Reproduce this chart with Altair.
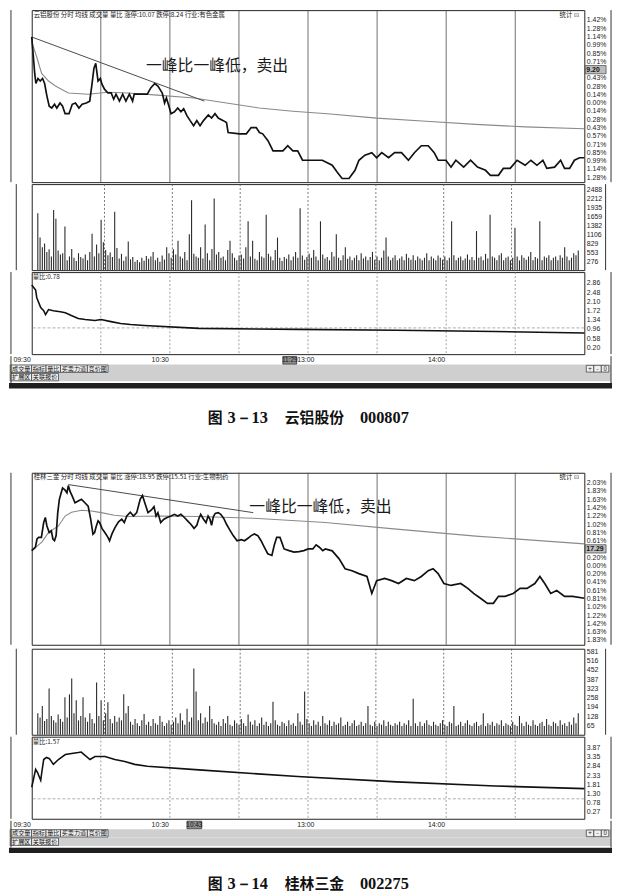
import altair as alt
import pandas as pd

# ======================= DATA =======================
GRID_MIN = [30, 60, 90, 120, 150, 180, 210]
TIME_MIN = [0, 60, 180]
TIME_LAB = ["09:30", "10:30", "14:00"]
BTN_ROW1 = ["成交量", "指标", "量比", "买卖力道", "竞价图"]
BTN_ROW2 = ["扩展区", "关联报价"]
PM_BTN = ["+", "-", "0"]
ANN_TEXT = "一峰比一峰低，卖出"

# ---- chart 1: 云铝股份 000807 ----
c1_header = "云铝股份    分时  均线  成交量  量比  涨停:10.07  跌停:8.24  行业:有色金属"
c1_price = [[0, 9.253], [1.3, 9.195], [1.8, 9.179], [2.7, 9.187], [3.7, 9.183], [4.7, 9.187],
            [5.6, 9.179], [6.6, 9.159], [7.6, 9.143], [8.7, 9.140], [9.9, 9.146], [10.9, 9.140],
            [12.3, 9.148], [13.4, 9.143], [14.5, 9.131], [16.2, 9.131], [17.6, 9.146], [19.0, 9.148],
            [20.5, 9.140], [21.9, 9.146], [23.7, 9.148], [25.2, 9.151], [26.2, 9.179], [27.0, 9.203],
            [27.8, 9.211], [28.8, 9.183], [29.8, 9.187], [30.5, 9.178], [31.6, 9.170], [33.1, 9.164],
            [34.5, 9.164], [35.6, 9.154], [36.6, 9.162], [38.1, 9.151], [39.5, 9.162], [40.9, 9.151],
            [42.4, 9.162], [43.8, 9.151], [44.5, 9.162], [50.2, 9.162], [51.7, 9.172], [53.4, 9.179],
            [54.8, 9.175], [56.7, 9.164], [57.7, 9.148], [58.5, 9.156], [59.6, 9.143], [60.5, 9.131],
            [62.0, 9.134], [63.4, 9.140], [64.8, 9.134], [66.0, 9.139], [67.4, 9.128], [68.8, 9.120],
            [70.3, 9.112], [71.7, 9.120], [73.1, 9.112], [74.6, 9.120], [76.7, 9.129], [78.1, 9.124],
            [79.6, 9.131], [81.0, 9.124], [83.2, 9.120], [84.6, 9.117], [85.3, 9.101], [90.3, 9.099],
            [93.2, 9.099], [95.3, 9.109], [97.5, 9.109], [98.9, 9.101], [100.3, 9.099], [102.6, 9.088],
            [104.8, 9.072], [109.1, 9.072], [111.2, 9.080], [113.4, 9.072], [115.5, 9.072], [117.6, 9.057],
            [121.9, 9.057], [126.2, 9.057], [130.5, 9.049], [132.7, 9.038], [134.8, 9.028], [137.8, 9.028],
            [140.4, 9.041], [142.1, 9.057], [144.7, 9.065], [147.7, 9.069], [149.8, 9.061], [152.0, 9.069],
            [155.0, 9.061], [157.6, 9.069], [160.6, 9.069], [163.6, 9.057], [166.2, 9.069], [169.2, 9.080],
            [172.2, 9.080], [174.8, 9.069], [176.5, 9.057], [179.9, 9.057], [182.1, 9.046], [184.2, 9.057],
            [187.6, 9.046], [190.6, 9.057], [193.6, 9.046], [197.1, 9.041], [199.2, 9.033], [202.7, 9.033],
            [204.8, 9.044], [207.8, 9.044], [210.8, 9.057], [214.3, 9.049], [216.8, 9.057], [219.4, 9.049],
            [222.0, 9.057], [223.7, 9.044], [227.1, 9.046], [229.7, 9.057], [231.4, 9.044], [233.6, 9.044],
            [235.7, 9.057], [237.9, 9.061], [240, 9.061]]
c1_avg = [[0, 9.245], [2.1, 9.222], [4.3, 9.195], [7.3, 9.183], [10.3, 9.175], [15.9, 9.164],
          [24.5, 9.162], [33.1, 9.165], [41.6, 9.164], [53.2, 9.161], [70.4, 9.156], [84.6, 9.148],
          [98.8, 9.140], [113.4, 9.135], [128.4, 9.131], [149.8, 9.124], [171.3, 9.119], [192.8, 9.114],
          [214.3, 9.110], [240, 9.107]]
c1_trend = [[0, 9.253], [75, 9.151]]
c1_volume = [1750, 1000, 700, 820, 560, 640, 420, 1850, 1580, 600,
             480, 520, 1340, 300, 420, 650, 380, 280, 520, 400,
             360, 480, 300, 560, 1120, 420, 790, 520, 1550, 860,
             620, 460, 540, 400, 1790, 680, 360, 500, 290, 420,
             880, 330, 400, 260, 310, 240, 380, 290, 430, 350,
             420, 560, 300, 380, 260, 450, 330, 700, 520, 380,
             640, 480, 900, 420, 360, 560, 300, 1100, 2150, 500,
             420, 380, 700, 360, 1400, 520, 300, 650, 2200, 480,
             560, 380, 420, 300, 620, 900, 520, 380, 300, 450,
             480, 360, 700, 1500, 420, 900, 350, 300, 560, 420,
             380, 1700, 500, 420, 300, 620, 1000, 380, 280, 400,
             350, 480, 300, 420, 560, 380, 1900, 450, 320, 400,
             500, 380, 620, 420, 300, 1500, 480, 360, 400, 300,
             560, 420, 1100, 380, 300, 460, 700, 350, 420, 300,
             380, 460, 300, 520, 360, 420, 300, 400, 560, 320,
             420, 300, 380, 600, 1000, 420, 300, 380, 460, 300,
             360, 420, 300, 500, 380, 320, 460, 300, 420, 360,
             300, 380, 520, 300, 420, 360, 300, 450, 380, 320,
             420, 300, 380, 1500, 460, 300, 380, 420, 300, 360,
             480, 320, 400, 300, 1200, 380, 420, 300, 500, 360,
             1700, 420, 380, 300, 460, 520, 300, 380, 420, 300,
             380, 1300, 420, 300, 460, 380, 320, 420, 560, 300,
             400, 360, 1500, 300, 420, 380, 460, 300, 380, 420,
             300, 460, 380, 700, 420, 300, 380, 520, 460, 600]
c1_ratio = [[0, 2.78], [1.7, 2.57], [2.2, 2.25], [3.9, 1.84], [5.2, 1.71], [6.0, 1.55], [7.3, 1.76],
            [9.4, 1.71], [12.4, 1.67], [14.6, 1.63], [17.2, 1.51], [20.2, 1.39], [23.2, 1.35],
            [27.5, 1.31], [30.1, 1.35], [34.4, 1.26], [38.6, 1.18], [42.9, 1.14], [48.9, 1.10],
            [72.6, 0.98], [115.5, 0.94], [158.4, 0.90], [201.3, 0.85], [240, 0.79]]
c1_price_labels = ["9.28", "9.27", "9.25", "9.24", "9.23", "9.21", "9.20", "9.19", "9.18", "9.16",
                   "9.15", "9.14", "9.12", "9.11", "9.10", "9.08", "9.07", "9.06", "9.05", "9.03"]
c1_vol_labels = [2488, 2212, 1935, 1659, 1382, 1106, 829, 553, 276]
c1_ratio_labels = [2.86, 2.48, 2.10, 1.72, 1.34, 0.96, 0.58, 0.20]
c1_ratio_text = "量比:0.78"
c1_hl_text = "9.20"
c1_cursor_text = "11:29"
c1_caption_parts = ["图", "3－13", "云铝股份", "000807"]

# ---- chart 2: 桂林三金 002275 ----
c2_header = "桂林三金    分时  均线  成交量  量比  涨停:18.95  跌停:15.51  行业:生物制药"
c2_price = [[0, 17.279], [1.6, 17.293], [2.3, 17.327], [3.0, 17.334], [4.2, 17.334], [5.2, 17.395],
            [5.9, 17.416], [6.6, 17.381], [7.6, 17.354], [8.5, 17.361], [9.2, 17.327], [9.9, 17.320],
            [10.6, 17.341], [11.3, 17.436], [12.0, 17.491], [12.8, 17.518], [13.4, 17.538], [14.5, 17.529],
            [15.3, 17.518], [15.9, 17.548], [16.6, 17.525], [17.6, 17.504], [18.8, 17.477], [20.2, 17.484],
            [21.6, 17.491], [23.1, 17.477], [24.5, 17.463], [25.6, 17.409], [26.6, 17.347], [27.3, 17.354],
            [28.0, 17.379], [28.8, 17.402], [29.5, 17.395], [30.5, 17.371], [31.9, 17.352], [33.1, 17.334],
            [33.8, 17.320], [34.8, 17.347], [36.2, 17.375], [37.7, 17.398], [39.1, 17.409], [40.2, 17.395],
            [41.3, 17.422], [42.8, 17.438], [44.2, 17.422], [45.6, 17.436], [47.1, 17.491], [48.1, 17.507],
            [49.1, 17.477], [50.5, 17.436], [52.0, 17.447], [53.1, 17.461], [54.0, 17.422], [54.8, 17.436],
            [56.0, 17.395], [57.4, 17.409], [58.8, 17.416], [60.5, 17.422], [62.0, 17.429], [63.4, 17.422],
            [64.8, 17.429], [66.3, 17.416], [67.7, 17.402], [69.1, 17.388], [70.5, 17.371], [71.7, 17.384],
            [72.6, 17.412], [73.4, 17.429], [74.6, 17.409], [75.7, 17.395], [76.6, 17.422], [77.4, 17.409],
            [78.1, 17.384], [78.9, 17.420], [79.7, 17.433], [81.0, 17.436], [82.1, 17.429], [83.4, 17.412],
            [84.6, 17.388], [86.0, 17.365], [87.5, 17.341], [89.2, 17.320], [91.0, 17.324], [92.4, 17.320],
            [93.9, 17.330], [95.3, 17.341], [96.7, 17.348], [98.2, 17.341], [99.6, 17.320], [101.0, 17.293],
            [102.5, 17.266], [104.3, 17.259], [105.3, 17.300], [106.4, 17.334], [107.8, 17.334], [108.6, 17.313],
            [109.6, 17.286], [111.8, 17.279], [113.9, 17.273], [116.1, 17.275], [118.2, 17.279], [120.1, 17.286],
            [122.1, 17.286], [123.5, 17.303], [124.9, 17.293], [126.4, 17.279], [127.5, 17.286], [130.5, 17.278],
            [133.5, 17.245], [136.1, 17.204], [139.1, 17.196], [142.1, 17.184], [145.6, 17.172], [147.7, 17.102],
            [149.8, 17.155], [153.3, 17.164], [156.3, 17.155], [159.3, 17.143], [162.7, 17.164], [166.2, 17.155],
            [169.2, 17.172], [172.2, 17.196], [174.3, 17.204], [176.5, 17.184], [179.0, 17.143], [182.1, 17.135],
            [186.3, 17.143], [189.4, 17.123], [191.9, 17.102], [194.9, 17.082], [197.9, 17.061], [200.5, 17.061],
            [202.7, 17.090], [205.6, 17.090], [209.1, 17.102], [212.1, 17.123], [215.1, 17.123], [218.5, 17.143],
            [220.7, 17.172], [222.8, 17.143], [225.4, 17.102], [228.0, 17.114], [231.4, 17.090], [234.9, 17.090],
            [240, 17.082]]
c2_avg = [[0, 17.279], [4.4, 17.314], [7.3, 17.354], [11.6, 17.381], [14.5, 17.422], [17.3, 17.438],
          [21.6, 17.446], [25.9, 17.443], [30.2, 17.436], [35.9, 17.425], [41.6, 17.420], [55.9, 17.422],
          [72.6, 17.420], [96.2, 17.413], [127.5, 17.395], [158.4, 17.368], [192.8, 17.339], [240, 17.307]]
c2_trend = [[15.9, 17.552], [96.2, 17.436]]
c2_volume = [150, 120, 199, 95, 110, 322, 130, 100, 85, 140,
             110, 90, 261, 120, 281, 391, 150, 240, 100, 130,
             261, 120, 90, 150, 110, 80, 364, 130, 240, 100,
             150, 226, 110, 80, 130, 90, 120, 100, 281, 150,
             199, 90, 70, 110, 80, 60, 100, 144, 70, 90,
             60, 110, 80, 70, 130, 90, 60, 80, 100, 70,
             90, 120, 80, 150, 100, 70, 180, 90, 120, 460,
             300, 100, 150, 80, 120, 90, 200, 110, 80, 70,
             90, 60, 110, 80, 130, 70, 60, 100, 80, 70,
             110, 80, 60, 140, 90, 70, 100, 60, 80, 120,
             70, 90, 60, 80, 230, 100, 70, 60, 90, 80,
             60, 100, 70, 80, 60, 150, 90, 70, 300, 110,
             80, 60, 100, 70, 90, 60, 130, 80, 70, 100,
             60, 90, 70, 80, 120, 60, 70, 90, 60, 80,
             100, 60, 70, 90, 60, 80, 200, 70, 60, 90,
             60, 80, 70, 100, 60, 90, 70, 60, 80, 70,
             90, 60, 80, 70, 100, 60, 250, 80, 60, 90,
             60, 80, 100, 70, 60, 90, 70, 60, 80, 100,
             70, 60, 90, 80, 200, 60, 70, 90, 60, 80,
             100, 70, 60, 80, 90, 60, 70, 150, 60, 80,
             70, 90, 60, 80, 70, 100, 60, 80, 70, 60,
             90, 70, 60, 130, 80, 60, 90, 70, 60, 100,
             70, 60, 80, 90, 60, 110, 70, 60, 90, 80,
             60, 100, 70, 80, 60, 90, 70, 120, 80, 150]
c2_ratio = [[0, 1.65], [1.7, 2.65], [2.6, 2.45], [3.0, 2.32], [3.9, 2.04], [4.5, 2.60], [5.2, 3.20],
            [6.4, 3.32], [7.7, 3.25], [9.4, 2.93], [11.6, 3.20], [12.9, 3.32], [14.6, 3.48], [20.2, 3.59],
            [21.5, 3.62], [25.3, 3.20], [27.5, 3.37], [31.8, 3.37], [36.1, 3.20], [40.4, 3.09],
            [44.7, 2.93], [50.2, 2.82], [72.6, 2.62], [115.5, 2.25], [158.4, 1.95], [201.4, 1.72], [240, 1.57]]
c2_price_labels = ["17.56", "17.53", "17.49", "17.46", "17.42", "17.40", "17.37", "17.33", "17.30", "17.26",
                   "17.23", "17.19", "17.16", "17.13", "17.09", "17.06", "17.02", "16.98", "16.95", "16.91"]
c2_vol_labels = [581, 516, 452, 387, 323, 258, 194, 128, 65]
c2_ratio_labels = [3.87, 3.35, 2.84, 2.33, 1.81, 1.30, 0.78, 0.27]
c2_ratio_text = "量比:1.57"
c2_hl_text = "17.29"
c2_cursor_text = "10:43"
c2_caption_parts = ["图", "3－14", "桂林三金", "002275"]

# ======================= LAYOUT =======================
W = 559
H_PRICE, H_VOL, H_RATIO, H_FOOT = 174, 87, 83, 34
CJK = "Noto Sans CJK SC"
LAB = "Liberation Sans"
SERIF = "Liberation Serif"
PX_PER_MIN = W / 240.0
CAPTION_PX = [209, 229, 287, 363]
CAPTION_FONTS = [CJK, SERIF, CJK, SERIF]
CAPTION_SIZES = [15, 16.5, 15, 16.5]


def pxm(px):
    """page-x (decoration helper) -> minutes"""
    return (px - 31) / PX_PER_MIN


XS = alt.Scale(domain=[0, 240], nice=False, zero=False)


def X(f="m"):
    return alt.X(f + ":Q", scale=XS, axis=None)


def frame_rules():
    return alt.Chart(pd.DataFrame({"m": [pxm(10), pxm(617)]})).mark_rule(
        color="#333", strokeWidth=1).encode(x=X())


def price_panel(c):
    top, step = c["ptop"], c["pstep"]
    dom = [top - 19.594 * step, top + 1.195 * step]
    ysc = alt.Scale(domain=dom, nice=False, zero=False)
    vals = [top - i * step for i in range(20)]
    arr = "[" + ",".join("'%s'" % s for s in c["plabels"]) + "]"
    lexpr = "%s[round((%r - datum.value) / %r)]" % (arr, top, step)
    ax = alt.Axis(values=vals, labelExpr=lexpr, grid=True, gridColor="#3c3c3c", gridWidth=0.8,
                  ticks=False, domain=False, labelPadding=2, minExtent=23, maxExtent=23, title=None,
                  labelFont=LAB, labelFontSize=7, labelColor="#222")

    def Y():
        return alt.Y("v:Q", scale=ysc, axis=None)

    axis_layer = alt.Chart(pd.DataFrame({"v": vals})).mark_point(opacity=0, size=1).encode(
        x=alt.value(0), y=alt.Y("v:Q", scale=ysc, axis=ax))
    vgrid = alt.Chart(pd.DataFrame({"m": GRID_MIN})).mark_rule(color="#4a4a4a", strokeWidth=0.8).encode(x=X())
    avg = alt.Chart(pd.DataFrame(c["avg"], columns=["m", "v"])).mark_line(
        color="#8a8a8a", strokeWidth=1.1).encode(x=X(), y=Y())
    trend = alt.Chart(pd.DataFrame(c["trend"], columns=["m", "v"])).mark_line(
        color="#4a4a4a", strokeWidth=1).encode(x=X(), y=Y())
    price = alt.Chart(pd.DataFrame(c["price"], columns=["m", "v"])).mark_line(
        color="#111", strokeWidth=1.7).encode(x=X(), y=Y())
    ann = alt.Chart(pd.DataFrame({"m": [c["ann_m"]], "v": [c["ann_v"]], "t": [ANN_TEXT]})).mark_text(
        font=CJK, fontSize=16, color="#1a1a1a").encode(x=X(), y=Y(), text="t:N")
    hv = dom[1] - (4.5 / 8.37) * step
    head = alt.Chart(pd.DataFrame({"m": [pxm(33), pxm(565)], "v": [hv, hv],
                                   "t": [c["header"], "统计  ⊡"]})).mark_text(
        font=CJK, fontSize=6.5, align="left", color="#222").encode(x=X(), y=Y(), text="t:N")
    hrow = vals[c["hl_row"]]
    hl = alt.Chart(pd.DataFrame({"m1": [pxm(591)], "m2": [pxm(612)], "v1": [hrow - 0.5 * step],
                                 "v2": [hrow + 0.5 * step]})).mark_rect(
        fill="#bdbdbd", stroke="#444", strokeWidth=0.7).encode(
        x=alt.X("m1:Q", scale=XS, axis=None), x2="m2", y=alt.Y("v1:Q", scale=ysc, axis=None), y2="v2")
    hlt = alt.Chart(pd.DataFrame({"m": [pxm(592)], "v": [hrow], "t": [c["hl_text"]]})).mark_text(
        font=LAB, fontSize=7, fontWeight="bold", align="left", color="#111").encode(x=X(), y=Y(), text="t:N")

    inner = alt.layer(axis_layer, vgrid, avg, trend, price, ann, head, frame_rules(), hl, hlt)

    ptop, pstep = c["pctop"], c["pctstep"]
    pdom = [ptop - 19.594 * pstep, ptop + 1.195 * pstep]
    pvals = [ptop - i * pstep for i in range(20)]
    pexpr = "round((%r - datum.value) / %r) == %d ? '' : format(abs(datum.value), '.2f') + '%%'" % (
        ptop, pstep, c["hl_row"])
    pax = alt.Axis(orient="right", values=pvals, labelExpr=pexpr,
                   grid=False, ticks=False, domain=False, labelPadding=2, minExtent=27, maxExtent=27,
                   title=None, labelFont=LAB, labelFontSize=7, labelColor="#222")
    pct = alt.Chart(pd.DataFrame({"p": pvals})).mark_point(opacity=0, size=1).encode(
        x=alt.value(0), y=alt.Y("p:Q", scale=alt.Scale(domain=pdom, nice=False, zero=False), axis=pax))
    return alt.layer(inner, pct).resolve_scale(y="independent").properties(width=W, height=H_PRICE)


def side_axes(vals, fmt, grid, orient):
    ext = 23 if orient == "left" else 27
    return alt.Axis(orient=orient, values=vals, format=fmt, grid=grid, gridColor="#3c3c3c", gridWidth=0.8,
                    ticks=False, domain=False, labelPadding=2, minExtent=ext, maxExtent=ext, title=None,
                    labelFont=LAB, labelFontSize=7, labelColor="#222")


def volume_panel(c):
    dom = [0, c["vmax"]]
    ysc = alt.Scale(domain=dom, nice=False, zero=False)
    labs = c["vlabels"]
    left = alt.Chart(pd.DataFrame({"v": labs})).mark_point(opacity=0, size=1).encode(
        x=alt.value(0), y=alt.Y("v:Q", scale=ysc, axis=side_axes(labs, "d", True, "left")))
    vgrid = alt.Chart(pd.DataFrame({"m": GRID_MIN})).mark_rule(
        color="#555", strokeWidth=0.8, strokeDash=[2, 2]).encode(x=X())
    vdf = pd.DataFrame({"v": c["volume"]})
    vdf["m"] = vdf.index + 0.5
    bars = alt.Chart(vdf).mark_bar(width=1.1, color="#2a2a2a").encode(
        x=X(), y=alt.Y("v:Q", scale=ysc, axis=None))
    inner = alt.layer(left, vgrid, bars, frame_rules())
    right = alt.Chart(pd.DataFrame({"v": labs})).mark_point(opacity=0, size=1).encode(
        x=alt.value(0), y=alt.Y("v:Q", scale=alt.Scale(domain=dom, nice=False, zero=False),
                                axis=side_axes(labs, "d", False, "right")))
    return alt.layer(inner, right).resolve_scale(y="independent").properties(width=W, height=H_VOL)


def ratio_panel(c):
    dom = c["rdom"]
    ysc = alt.Scale(domain=dom, nice=False, zero=False)
    labs = c["rlabels"]
    left = alt.Chart(pd.DataFrame({"v": labs})).mark_point(opacity=0, size=1).encode(
        x=alt.value(0), y=alt.Y("v:Q", scale=ysc, axis=side_axes(labs, ".2f", False, "left")))
    vgrid = alt.Chart(pd.DataFrame({"m": GRID_MIN})).mark_rule(
        color="#777", strokeWidth=0.7, strokeDash=[2, 2]).encode(x=X())
    one = alt.Chart(pd.DataFrame({"v": [1.0]})).mark_rule(
        color="#999", strokeWidth=0.8, strokeDash=[3, 2]).encode(y=alt.Y("v:Q", scale=ysc, axis=None))
    line = alt.Chart(pd.DataFrame(c["ratio"], columns=["m", "v"])).mark_line(
        color="#111", strokeWidth=1.6).encode(x=X(), y=alt.Y("v:Q", scale=ysc, axis=None))
    hv = dom[1] - (5.0 / H_RATIO) * (dom[1] - dom[0])
    head = alt.Chart(pd.DataFrame({"m": [pxm(32)], "v": [hv], "t": [c["rtext"]]})).mark_text(
        font=CJK, fontSize=6.5, align="left", color="#222").encode(
        x=X(), y=alt.Y("v:Q", scale=ysc, axis=None), text="t:N")
    inner = alt.layer(left, vgrid, one, line, head, frame_rules())
    right = alt.Chart(pd.DataFrame({"v": labs})).mark_point(opacity=0, size=1).encode(
        x=alt.value(0), y=alt.Y("v:Q", scale=alt.Scale(domain=dom, nice=False, zero=False),
                                axis=side_axes(labs, ".2f", False, "right")))
    return alt.layer(inner, right).resolve_scale(y="independent").properties(width=W, height=H_RATIO)


def footer_panel(c):
    ysc = alt.Scale(domain=[0, 4], reverse=True, nice=False, zero=False)

    def Yf(f):
        return alt.Y(f + ":Q", scale=ysc, axis=None)

    bg = alt.Chart(pd.DataFrame({"m1": [pxm(8)] * 2, "m2": [pxm(617)] * 2, "y1": [1.0, 2.0],
                                 "y2": [2.0, 3.0]})).mark_rect(color="#cfcfcf").encode(
        x=alt.X("m1:Q", scale=XS, axis=None), x2="m2", y=Yf("y1"), y2="y2")
    recs = []
    for row, labels in [(1, BTN_ROW1), (2, BTN_ROW2)]:
        px = 10
        for lab in labels:
            w = 6.3 * len(lab) + 2
            recs.append(dict(m1=pxm(px), m2=pxm(px + w), mc=pxm(px + w / 2), y1=row + 0.06,
                             y2=row + 0.94, yc=row + 0.5, t=lab))
            px += w
    px = 592
    for lab in PM_BTN:
        recs.append(dict(m1=pxm(px), m2=pxm(px + 7.6), mc=pxm(px + 3.8), y1=1.1, y2=1.9, yc=1.5, t=lab))
        px += 7.6
    bdf = pd.DataFrame(recs)
    boxes = alt.Chart(bdf).mark_rect(fill="#efefef", stroke="#333", strokeWidth=0.7).encode(
        x=alt.X("m1:Q", scale=XS, axis=None), x2="m2", y=Yf("y1"), y2="y2")
    btxt = alt.Chart(bdf).mark_text(font=CJK, fontSize=6.2, color="#111").encode(
        x=alt.X("mc:Q", scale=XS, axis=None), y=Yf("yc"), text="t:N")
    tdf = pd.DataFrame({"m": TIME_MIN, "y": [0.5] * len(TIME_MIN), "t": TIME_LAB})
    times = alt.Chart(tdf).mark_text(font=LAB, fontSize=7, align="right", dx=-1, color="#222").encode(
        x=X(), y=Yf("y"), text="t:N")
    t13 = alt.Chart(pd.DataFrame({"m": [pxm(299.5)], "y": [0.5], "t": ["13:00"]})).mark_text(
        font=LAB, fontSize=7, align="left", color="#222").encode(x=X(), y=Yf("y"), text="t:N")
    cb = pd.DataFrame({"m1": [c["cur_m1"]], "m2": [c["cur_m2"]], "mc": [(c["cur_m1"] + c["cur_m2"]) / 2],
                       "y1": [0.05], "y2": [0.95], "yc": [0.5], "t": [c["cursor"]]})
    cbox = alt.Chart(cb).mark_rect(fill="#8f8f8f", stroke="#222", strokeWidth=0.7).encode(
        x=alt.X("m1:Q", scale=XS, axis=None), x2="m2", y=Yf("y1"), y2="y2")
    ctxt = alt.Chart(cb).mark_text(font=LAB, fontSize=6.5, color="#111").encode(
        x=alt.X("mc:Q", scale=XS, axis=None), y=Yf("yc"), text="t:N")
    band = alt.Chart(pd.DataFrame({"m1": [pxm(8)], "m2": [pxm(618)], "y1": [3.2], "y2": [3.85]})).mark_rect(
        color="#1f1f1f").encode(x=alt.X("m1:Q", scale=XS, axis=None), x2="m2", y=Yf("y1"), y2="y2")
    fr = alt.Chart(pd.DataFrame({"m": [pxm(10), pxm(617)], "y1": [0.0, 0.0], "y2": [3.2, 3.2]})).mark_rule(
        color="#333", strokeWidth=1).encode(x=X(), y=Yf("y1"), y2="y2")
    return alt.layer(bg, boxes, btxt, times, t13, cbox, ctxt, band, fr).properties(
        width=W, height=H_FOOT, view=alt.ViewBackground(strokeWidth=0))


def caption_panel(parts, h, frac):
    ysc = alt.Scale(domain=[0, 1], reverse=True, nice=False, zero=False)
    layers = []
    for t, px, f, s in zip(parts, CAPTION_PX, CAPTION_FONTS, CAPTION_SIZES):
        layers.append(alt.Chart(pd.DataFrame({"m": [pxm(px)], "y": [frac], "t": [t]})).mark_text(
            font=f, fontSize=s, fontWeight="bold", align="left", color="#111").encode(
            x=X(), y=alt.Y("y:Q", scale=ysc, axis=None), text="t:N"))
    return alt.layer(*layers).properties(width=W, height=h, view=alt.ViewBackground(strokeWidth=0))


def stock_block(c):
    return alt.vconcat(price_panel(c), volume_panel(c), ratio_panel(c), footer_panel(c), spacing=0)


C1 = dict(header=c1_header, price=c1_price, avg=c1_avg, trend=c1_trend, volume=c1_volume, ratio=c1_ratio,
          plabels=c1_price_labels, ptop=9.28, pstep=0.013158, pctop=1.42, pctstep=0.142,
          vlabels=c1_vol_labels, vmax=2643, rlabels=c1_ratio_labels, rdom=[-0.086, 3.31],
          rtext=c1_ratio_text, hl_text=c1_hl_text, hl_row=6, cursor=c1_cursor_text,
          cur_m1=pxm(285), cur_m2=pxm(299), ann_m=80.5, ann_v=9.206)
C2 = dict(header=c2_header, price=c2_price, avg=c2_avg, trend=c2_trend, volume=c2_volume, ratio=c2_ratio,
          plabels=c2_price_labels, ptop=17.56, pstep=0.034211, pctop=2.032, pctstep=0.2032,
          vlabels=c2_vol_labels, vmax=598, rlabels=c2_ratio_labels, rdom=[-0.117, 4.479],
          rtext=c2_ratio_text, hl_text=c2_hl_text, hl_row=8, cursor=c2_cursor_text,
          cur_m1=pxm(188), cur_m2=pxm(203), ann_m=125.4, ann_v=17.458)

chart = alt.vconcat(
    stock_block(C1),
    caption_panel(c1_caption_parts, 83, 0.34),
    stock_block(C2),
    caption_panel(c2_caption_parts, 33, 0.9),
    spacing=0,
).properties(padding={"left": 0, "top": -4, "right": 0, "bottom": 0},
             background="white").configure_view(stroke="#222", strokeWidth=1)

chart.save("out.html", embed_options={"renderer": "svg", "actions": False})
